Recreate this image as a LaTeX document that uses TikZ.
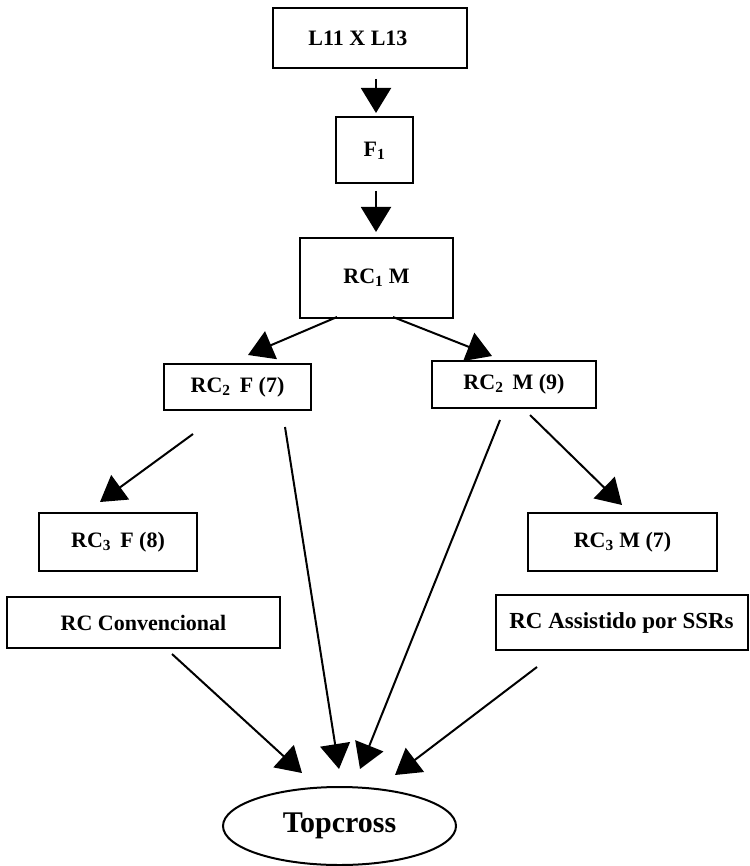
\documentclass[tikz,border=0pt]{standalone}
\usepackage{fontspec}
\setmainfont{Liberation Serif}
\usetikzlibrary{arrows.meta,shapes.geometric}
\tikzset{
  box/.style={draw, line width=2pt, inner sep=0pt, font=\bfseries\fontsize{22}{25}\selectfont},
  oval/.style={draw, ellipse, line width=2pt, inner sep=0pt, font=\bfseries\fontsize{30}{33}\selectfont},
  arr/.style={line width=2pt, -{Triangle[length=25pt,width=30pt]}}
}
\begin{document}
\begin{tikzpicture}[x=1pt,y=-1pt]
\useasboundingbox (0,0) rectangle (749,866);
\node[box, minimum width=194pt, minimum height=60pt] (l11) at (370,38) {L11 X L13\kern24pt};
\node[box, minimum width=77pt, minimum height=66pt] (f1) at (374.5,150.5) {F\textsubscript{1}};
\node[box, minimum width=153pt, minimum height=80pt] (rc1) at (376.5,278) {RC\textsubscript{1} M};
\node[box, minimum width=147pt, minimum height=46pt] (rc2f) at (237.5,387) {RC\textsubscript{2}\, F (7)};
\node[box, minimum width=164pt, minimum height=47pt] (rc2m) at (514,384.5) {RC\textsubscript{2}\, M (9)};
\node[box, minimum width=158pt, minimum height=58pt] (rc3f) at (118,542) {RC\textsubscript{3}\, F (8)};
\node[box, minimum width=189pt, minimum height=58pt] (rc3m) at (622.5,542) {RC\textsubscript{3} M (7)};
\node[box, minimum width=273pt, minimum height=51pt] (rcconv) at (143.5,622.5) {RC Convencional};
\node[box, minimum width=252pt, minimum height=55pt, font=\bfseries\fontsize{23}{26}\selectfont] (rcass) at (621.5,622.5) {RC Assistido por SSRs};
\node[oval, minimum width=233pt, minimum height=78pt] (top) at (339.5,826) {Topcross};

\coordinate (a1s) at (376,79);  \coordinate (a1e) at (376,113);
\coordinate (a2s) at (376,191); \coordinate (a2e) at (376,232);
\coordinate (a3s) at (337,317); \coordinate (a3e) at (248,355);
\coordinate (a4s) at (393,317); \coordinate (a4e) at (492,356);
\coordinate (a5s) at (193,434); \coordinate (a5e) at (100,502);
\coordinate (a6s) at (530,415); \coordinate (a6e) at (622,505);
\coordinate (a7s) at (285,427); \coordinate (a7e) at (339,769);
\coordinate (a8s) at (500,420); \coordinate (a8e) at (360,769);
\coordinate (a9s) at (172,654); \coordinate (a9e) at (302,773);
\coordinate (a10s) at (537,667); \coordinate (a10e) at (395,775);

\draw[arr] (a1s) -- (a1e);
\draw[arr] (a2s) -- (a2e);
\draw[arr] (a3s) -- (a3e);
\draw[arr] (a4s) -- (a4e);
\draw[arr] (a5s) -- (a5e);
\draw[arr] (a6s) -- (a6e);
\draw[arr] (a7s) -- (a7e);
\draw[arr] (a8s) -- (a8e);
\draw[arr] (a9s) -- (a9e);
\draw[arr] (a10s) -- (a10e);
\end{tikzpicture}
\end{document}
